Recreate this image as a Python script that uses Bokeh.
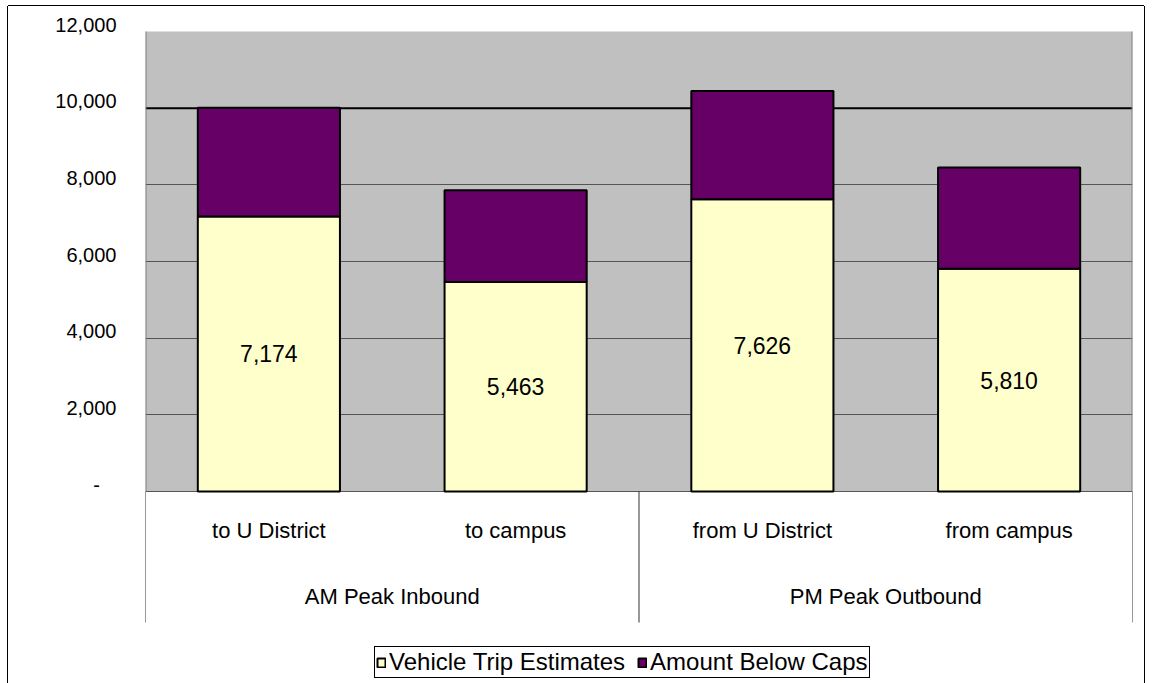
from bokeh.plotting import figure
from bokeh.models import (FactorRange, Range1d, ColumnDataSource, BoxAnnotation, Span,
                          FixedTicker, NumeralTickFormatter, Legend, LegendItem, LinearAxis)
from bokeh.core.properties import value
from bokeh.embed import file_html
from bokeh.resources import INLINE

# ---------------- data ----------------
groups = ["AM Peak Inbound", "AM Peak Inbound", "PM Peak Outbound", "PM Peak Outbound"]
subcats = ["to U District", "to campus", "from U District", "from campus"]
group_names = ["AM Peak Inbound", "PM Peak Outbound"]
trip_estimates = [7174, 5463, 7626, 5810]
below_caps = [2836, 2397, 2824, 2640]
value_labels = ["7,174", "5,463", "7,626", "5,810"]
series_names = ["Vehicle Trip Estimates", "Amount Below Caps"]
y_ticks = [0, 2000, 4000, 6000, 8000, 10000, 12000]
grid_ticks = [0, 2000, 4000, 6000, 8000]
cap_line = 10000
y_max = 12000

# ---------------- layout constants ----------------
W, H = 1136, 677
BL, BR, BT = 137, 12, 13
PX_PER_UNIT = 460.0 / y_max
Y_TOP = y_max + 12 / PX_PER_UNIT
Y_MIN = Y_TOP - (H - BT) / PX_PER_UNIT
SUB_Y = -39 / PX_PER_UNIT
GRP_Y = -105 / PX_PER_UNIT
SEP_Y = -131 / PX_PER_UNIT
LABEL_SHIFT = 7 / PX_PER_UNIT
FONT = "Liberation Sans"

factors = list(zip(groups, subcats))

p = figure(width=W, height=H, output_backend="svg", toolbar_location=None,
           x_range=FactorRange(*factors, factor_padding=0, group_padding=0, range_padding=0),
           y_range=Range1d(Y_MIN, Y_TOP), x_axis_location=None, y_axis_location=None,
           min_border_left=BL, min_border_right=BR, min_border_top=BT, min_border_bottom=0)
p.outline_line_color = None
p.background_fill_color = "white"
p.border_fill_color = "white"
p.styles = {"margin": "6px 0 0 8px",
            "box-shadow": "0 -1px 0 0 black, -1px 0 0 0 black, 1px 0 0 0 black"}
p.extra_y_ranges = {"lab": Range1d(Y_MIN - LABEL_SHIFT, Y_TOP - LABEL_SHIFT)}

# gray plot area
p.add_layout(BoxAnnotation(bottom=0, top=y_max, fill_color="#C0C0C0", fill_alpha=1,
                           line_color=None, level="image"))

p.xgrid.visible = False
p.ygrid.ticker = FixedTicker(ticks=grid_ticks)
p.ygrid.grid_line_color = "#555555"
p.ygrid.grid_line_width = 1
p.add_layout(Span(location=cap_line, dimension="width", line_color="black",
                  line_width=2, level="underlay"))

# y axis (labels sit slightly above their gridlines, as in the original)
ax = LinearAxis(y_range_name="lab")
ax.ticker = FixedTicker(ticks=y_ticks)
ax.formatter = NumeralTickFormatter(format="0,0")
ax.major_label_overrides = {0: "-\u00a0\u00a0\u00a0"}
ax.axis_line_color = None
ax.major_tick_line_color = None
ax.minor_tick_line_color = None
ax.major_label_standoff = 23
ax.major_label_text_font = FONT
ax.major_label_text_font_size = "20px"
ax.major_label_text_color = "black"
p.add_layout(ax, "left")

# category boundaries
counts = []
for g in group_names:
    counts.append(groups.count(g))
bounds = [0]
for c in counts:
    bounds.append(bounds[-1] + c)

# plot-area side edges
p.segment(x0=[bounds[0], bounds[-1]], y0=[0, 0], x1=[bounds[0], bounds[-1]], y1=[y_max, y_max],
          line_color="#808080", line_width=2)

# bars
src = ColumnDataSource(dict(x=factors, est=trip_estimates, below=below_caps,
                            ly=[v / 2 for v in trip_estimates], lab=value_labels))
rs = p.vbar_stack(["est", "below"], x="x", width=0.576, source=src,
                  fill_color=["#FFFFCC", "#660066"], line_color="black", line_width=2)

p.text(x="x", y="ly", text="lab", source=src, text_font=value(FONT),
       text_font_size=value("23px"), text_align="center", text_baseline="middle",
       text_color="black")

# category axis box
p.segment(x0=bounds, y0=[0] * len(bounds), x1=bounds, y1=[SEP_Y] * len(bounds),
          line_color="#333333", line_width=1)

p.text(x=factors, y=[SUB_Y] * len(factors), text=subcats, text_font=value(FONT),
       text_font_size=value("22px"), text_align="center", text_baseline="middle",
       text_color="black")
p.text(x=group_names, y=[GRP_Y] * len(group_names), text=group_names, text_font=value(FONT),
       text_font_size=value("22px"), text_align="center", text_baseline="middle",
       text_color="black")

# legend
legend = Legend(items=[LegendItem(label=series_names[i], renderers=[rs[i]]) for i in range(2)],
                orientation="horizontal", location=(229, 5))
legend.border_line_color = "black"
legend.border_line_width = 1
legend.border_line_alpha = 1
legend.background_fill_color = "white"
legend.background_fill_alpha = 1
legend.padding = 1
legend.spacing = 12
legend.margin = 0
legend.label_standoff = 3
legend.glyph_width = 10
legend.glyph_height = 11
legend.label_height = 22
legend.label_text_font = FONT
legend.label_text_font_size = "24px"
legend.label_text_color = "black"
p.add_layout(legend)

open("out.html", "w").write(file_html(p, INLINE))
